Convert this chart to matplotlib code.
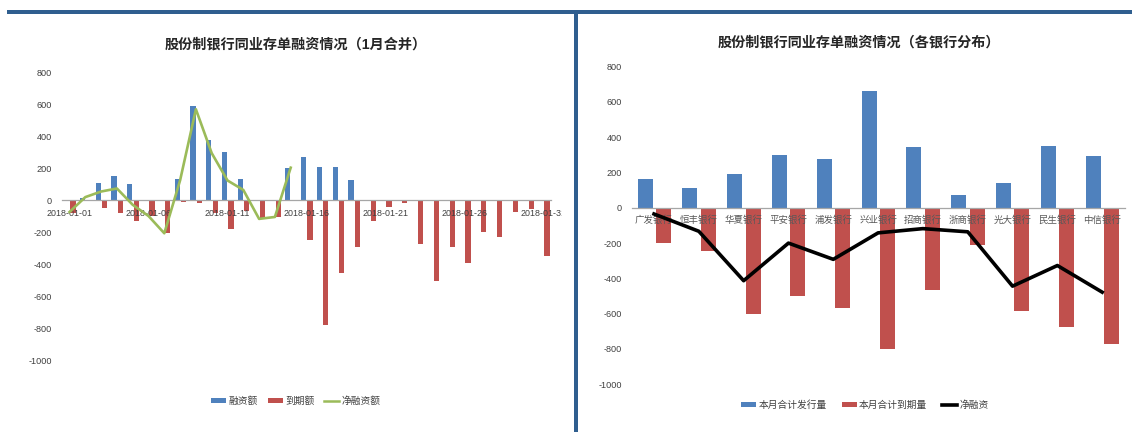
import numpy as np
import matplotlib
matplotlib.use("Agg")
import matplotlib.pyplot as plt
from matplotlib.patches import Rectangle, Patch
from matplotlib.lines import Line2D
from matplotlib.transforms import Bbox, TransformedBbox

plt.rcParams['font.family'] = ['Liberation Sans', 'Noto Sans CJK SC', 'DejaVu Sans']

# ---------------- data: left chart (January, daily) ----------------
dates = ["2018-01-%02d" % d for d in range(1, 32)]
financing = [0, 15, 105, 150, 100, 0, 0, 133, 586, 378, 303, 129, 0, 0, 202,
             270, 208, 204, 125, 0, 0, 0, 0, 0, 0, 0, 0, 0, 0, 0, 0]
maturity = [-80, 0, -50, -80, -130, -100, -208, -10, -17, -83, -183, -66, -115, -108, 0,
            -249, -783, -457, -291, -129, -46, -21, -276, -505, -291, -395, -197, -231, -73, -54, -353]
net_financing = [-75, 18, 53, 72, -30, -100, -208, 123, 567, 293, 122, 63, -118, -106, 202,
                 None, None, None, None, None, None, None, None, None, None, None, None, None, None, None, None]
left_yticks = [800, 600, 400, 200, 0, -200, -400, -600, -800, -1000]

# ---------------- data: right chart (by bank) ----------------
banks = ["广发银行", "恒丰银行", "华夏银行", "平安银行", "浦发银行", "兴业银行",
         "招商银行", "浙商银行", "光大银行", "民生银行", "中信银行"]
issued = [162, 110, 189, 298, 278, 661, 346, 74, 138, 349, 295]
matured = [-202, -246, -599, -499, -570, -801, -465, -208, -584, -678, -771]
net = [-35, -133, -413, -200, -292, -142, -118, -136, -444, -327, -478]
right_yticks = [800, 600, 400, 200, 0, -200, -400, -600, -800, -1000]

BLUE = "#4F81BD"
RED = "#C0504D"
GREEN = "#9BBB59"
FRAME = "#2F5E8F"
TXT = "#404040"

W, H = 1132, 432
fig = plt.figure(figsize=(W / 100, H / 100), dpi=100)


def fx(px):
    return px / W


def fy(py):
    return 1 - py / H


def style_axis(ax, yt, pad_x):
    for s in ['left', 'right', 'top']:
        ax.spines[s].set_visible(False)
    ax.spines['bottom'].set_position(('data', 0))
    ax.spines['bottom'].set_color("#A6A6A6")
    ax.spines['bottom'].set_linewidth(0.9)
    ax.set_axisbelow(False)
    ax.set_yticks(yt)
    ax.set_yticklabels([str(v) for v in yt])
    ax.tick_params(axis='y', length=0, pad=7, labelsize=6.6, labelcolor=TXT)
    ax.tick_params(axis='x', length=0, pad=pad_x, labelcolor=TXT)


# ---------------- left chart ----------------
axL = fig.add_axes([fx(61.6), fy(360), fx(551.4 - 61.6), (360 - 72) / H])
xL = np.arange(len(dates))
fin_arr = np.array(financing, dtype=float)
mat_arr = np.array(maturity, dtype=float)
net_arr = np.array([np.nan if v is None else v for v in net_financing], dtype=float)
axL.bar(xL - 0.18, fin_arr, width=0.33, color=BLUE, zorder=1)
axL.bar(xL + 0.22, mat_arr, width=0.33, color=RED, zorder=1)
axL.plot(xL, net_arr, color=GREEN, lw=1.9, zorder=3)
axL.set_xlim(-0.5, len(dates) - 0.5)
axL.set_ylim(-1000, 800)
style_axis(axL, left_yticks, 6.5)
tick_pos = list(range(0, len(dates), 5))
axL.set_xticks(tick_pos)
axL.set_xticklabels([dates[i] for i in tick_pos], fontsize=6.4)
clip = TransformedBbox(Bbox([[0, 0], [fx(562), 1]]), fig.transFigure)
for lab in axL.get_xticklabels():
    lab.set_clip_on(True)
    lab.set_clip_box(clip)

fig.text(fx(296), fy(45), "股份制银行同业存单融资情况（1月合并）", ha='center', va='center',
         fontsize=10.2, color="#262626", fontweight='bold')

handlesL = [Patch(facecolor=BLUE, edgecolor='none'), Patch(facecolor=RED, edgecolor='none'),
            Line2D([], [], color=GREEN, lw=1.8)]
legL = fig.legend(handlesL, ["融资额", "到期额", "净融资额"], loc='center',
                  bbox_to_anchor=(fx(296), fy(401)), ncol=3, frameon=False, fontsize=7,
                  handlelength=1.55, handleheight=0.5, handletextpad=0.25, columnspacing=1.0,
                  borderaxespad=0, borderpad=0)
for t in legL.get_texts():
    t.set_color(TXT)

# ---------------- right chart ----------------
axR = fig.add_axes([fx(631.6), fy(384.3), fx(1124.6 - 631.6), (384.3 - 66.6) / H])
xR = np.arange(len(banks))
axR.bar(xR - 0.2, issued, width=0.335, color=BLUE, zorder=1)
axR.bar(xR + 0.21, matured, width=0.335, color=RED, zorder=1)
axR.plot(xR, net, color="black", lw=2.6, zorder=3)
axR.set_xlim(-0.5, len(banks) - 0.5)
axR.set_ylim(-1000, 800)
style_axis(axR, right_yticks, 5.5)
axR.set_xticks(xR)
axR.set_xticklabels(banks, fontsize=6.8, color="#595959")

fig.text(fx(859), fy(43), "股份制银行同业存单融资情况（各银行分布）", ha='center', va='center',
         fontsize=10.2, color="#262626", fontweight='bold')

handlesR = [Patch(facecolor=BLUE, edgecolor='none'), Patch(facecolor=RED, edgecolor='none'),
            Line2D([], [], color="black", lw=2.6)]
legR = fig.legend(handlesR, ["本月合计发行量", "本月合计到期量", "净融资"], loc='center',
                  bbox_to_anchor=(fx(865), fy(405)), ncol=3, frameon=False, fontsize=7,
                  handlelength=1.55, handleheight=0.5, handletextpad=0.25, columnspacing=1.5,
                  borderaxespad=0, borderpad=0)
for t in legR.get_texts():
    t.set_color(TXT)

# ---------------- frame decorations ----------------
fig.add_artist(Rectangle((fx(7), fy(14)), 1 - fx(7), 4 / H, transform=fig.transFigure,
                         facecolor=FRAME, edgecolor='none'))
fig.add_artist(Rectangle((fx(574), 0), fx(4), fy(10), transform=fig.transFigure,
                         facecolor=FRAME, edgecolor='none'))

fig.savefig("out.png", dpi=100)
